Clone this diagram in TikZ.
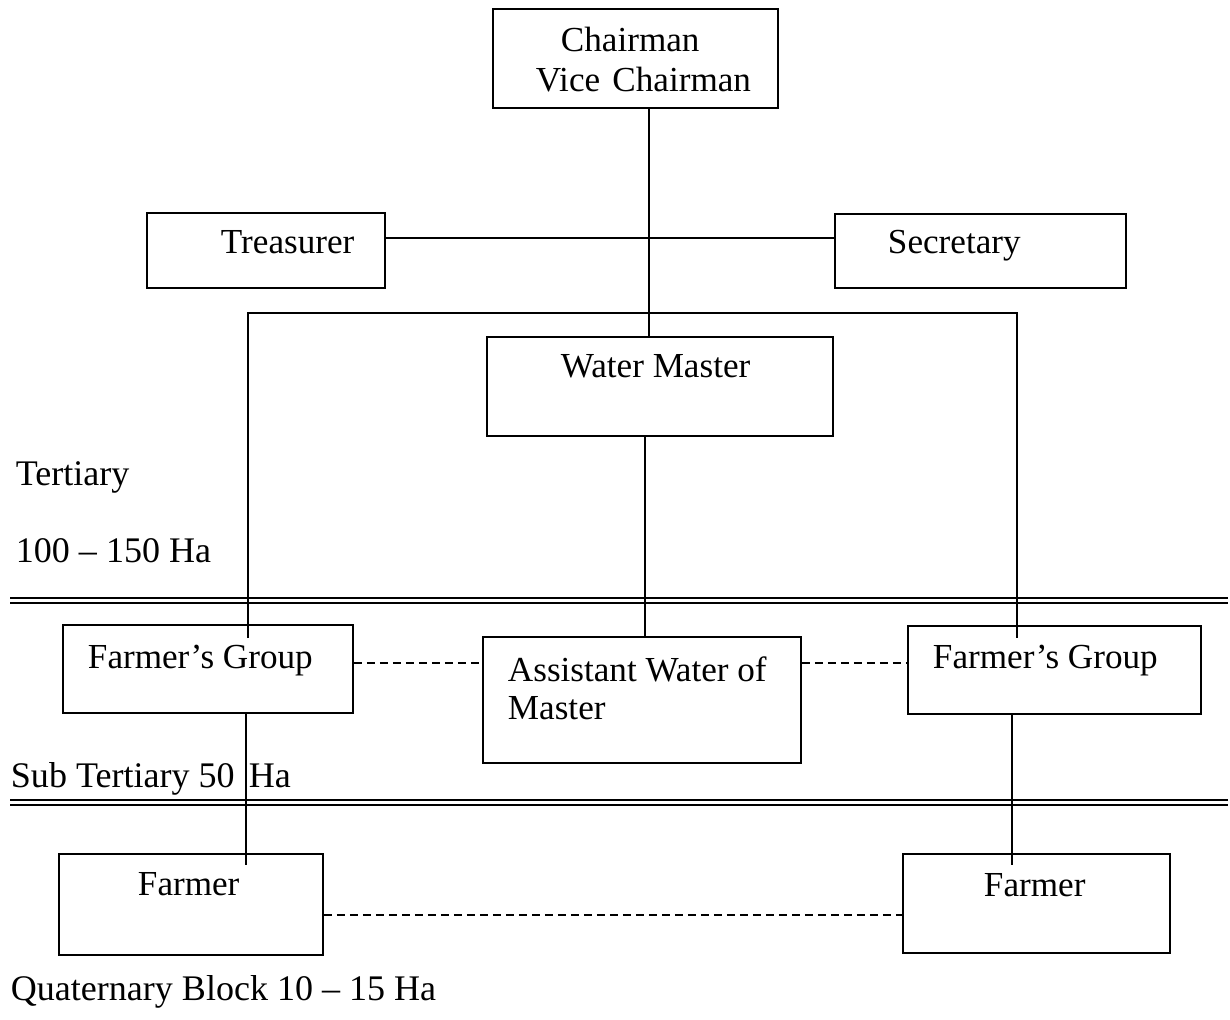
\documentclass[tikz,border=0pt]{standalone}
\usepackage{fontspec}
\setmainfont{Liberation Serif}
\usetikzlibrary{fit}
\begin{document}
\begin{tikzpicture}[x=0.02cm,y=-0.02cm,
    line width=1.1pt,
    box/.style={draw, rectangle, inner sep=0pt, line width=1.1pt},
    txt/.style={anchor=base west, inner sep=0pt, font=\fontsize{20}{24}\selectfont},
    lvl/.style={anchor=base west, inner sep=0pt, font=\fontsize{20.5}{24}\selectfont},
    link/.style={line width=1.1pt},
    dashlink/.style={line width=1.1pt, dash pattern=on 0.17cm off 0.09cm},
    rule/.style={line width=1.1pt}]
  \useasboundingbox (0,0) rectangle (1230,1019);

  % boxes
  \node[box, fit={(493,9) (778,108)}] (chair) {};
  \node[box, fit={(147,213) (385,288)}] (treas) {};
  \node[box, fit={(835,214) (1126,288)}] (secr) {};
  \node[box, fit={(487,337) (833,436)}] (wm) {};
  \node[box, fit={(63,625) (353,713)}] (fgL) {};
  \node[box, fit={(483,637) (801,763)}] (awm) {};
  \node[box, fit={(908,626) (1201,714)}] (fgR) {};
  \node[box, fit={(59,854) (323,955)}] (farmL) {};
  \node[box, fit={(903,854) (1170,953)}] (farmR) {};

  % box texts
  \node[txt] (tChair) at (560,51) {Chairman};
  \node[txt] (tVice) at (535,91) {Vice\hspace{0.35em}Chairman};
  \node[txt] (tTreas) at (220,253) {Treasurer};
  \node[txt] (tSecr) at (887,253) {Secretary};
  \node[txt] (tWm) at (560,377) {Water Master};
  \node[txt] (tFgL) at (87,668) {Farmer’s Group};
  \node[txt, font=\fontsize{20}{21.5}\selectfont, align=left, anchor=north west]
    (tAwm) at (507,656) {Assistant Water of\\Master};
  \node[txt] (tFgR) at (932,668) {Farmer’s Group};
  \node[txt] (tFarmL) at (137,895) {Farmer};
  \node[txt] (tFarmR) at (983,896) {Farmer};

  % level labels
  \node[lvl] (lTert) at (15,485) {Tertiary};
  \node[lvl] (lTertHa) at (15,562) {100 – 150 Ha};
  \node[lvl] (lSub) at (10,787) {Sub Tertiary 50\hspace{0.4em}Ha};
  \node[lvl] (lQuat) at (10,1000) {Quaternary Block 10 – 15 Ha};

  % level separators
  \draw[rule] (10,598) -- (1228,598);
  \draw[rule] (10,603) -- (1228,603);
  \draw[rule] (10,800) -- (1228,800);
  \draw[rule] (10,805) -- (1228,805);

  % helper coordinates
  \coordinate (sp) at (649,0);
  \coordinate (ts) at (0,238);
  \coordinate (br) at (1017,313);
  \coordinate (blEnd) at (248,638);
  \coordinate (brEnd) at (1017,638);
  \coordinate (wa) at (645,0);
  \coordinate (fl) at (246,0);
  \coordinate (flEnd) at (246,865);
  \coordinate (fr) at (1012,0);
  \coordinate (frEnd) at (1012,865);
  \coordinate (d1) at (0,663);
  \coordinate (d2) at (0,915);

  % solid connectors
  \draw[link] (chair.south -| sp) -- (wm.north -| sp);
  \draw[link] (treas.east |- ts) -- (secr.west |- ts);
  \draw[link] (blEnd) |- (br) -- (brEnd);
  \draw[link] (wm.south -| wa) -- (awm.north -| wa);
  \draw[link] (fgL.south -| fl) -- (flEnd);
  \draw[link] (fgR.south -| fr) -- (frEnd);

  % dashed connectors
  \draw[dashlink] (fgL.east |- d1) -- (awm.west |- d1);
  \draw[dashlink] (awm.east |- d1) -- (fgR.west |- d1);
  \draw[dashlink] (farmL.east |- d2) -- (farmR.west |- d2);
\end{tikzpicture}
\end{document}
